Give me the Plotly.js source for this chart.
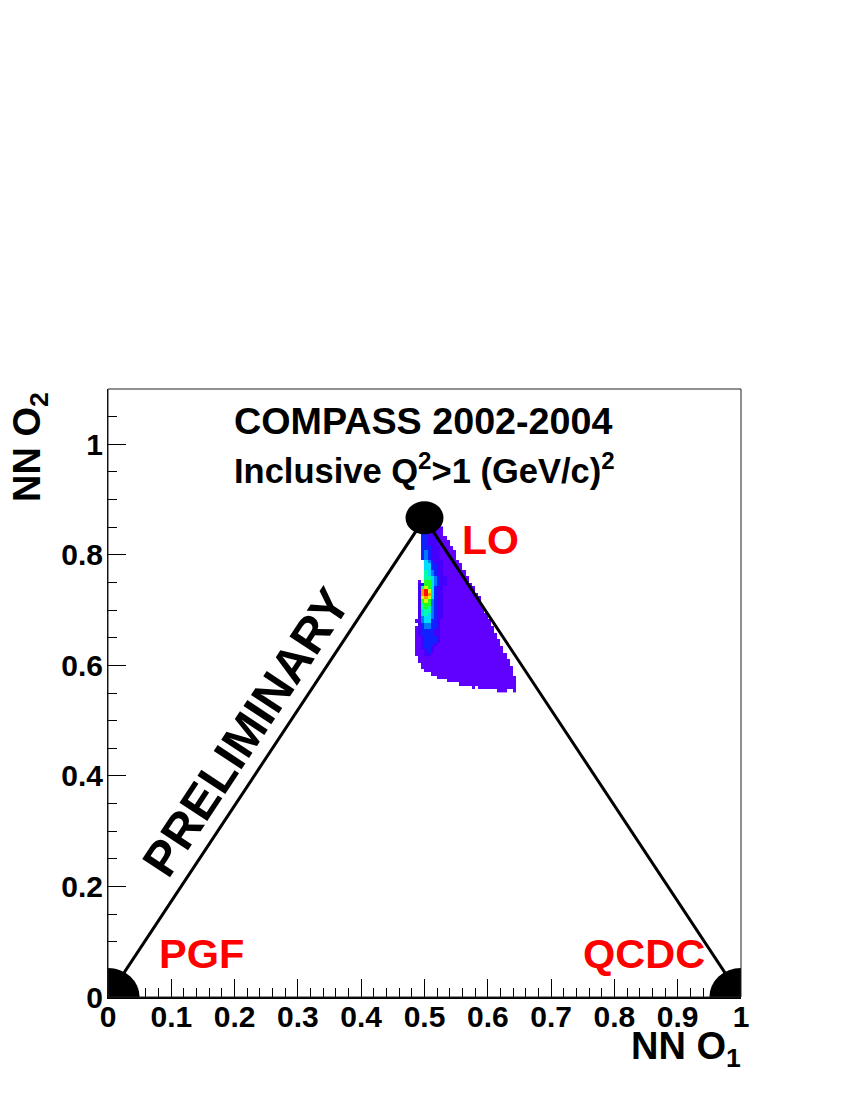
<!DOCTYPE html>
<html>
<head>
<meta charset="utf-8">
<script src="https://cdn.plot.ly/plotly-3.0.1.min.js"></script>
<style>html,body{margin:0;padding:0;background:#fff}</style>
</head>
<body>
<div id="chart" style="width:850px;height:1100px"></div>
<script>
// triangle corners, NN O1 / NN O2
const cornerX = [0, 0.5, 1]
const cornerY = [0, 0.866, 0]
const blobX = [0, 0.5, 1]
const blobY = [0, 0.867, 0]
const blobRx = [0.05, 0.03, 0.05]
const blobRy = [0.0525, 0.03, 0.0525]

const xTickVals = [0, 0.1, 0.2, 0.3, 0.4, 0.5, 0.6, 0.7, 0.8, 0.9, 1]
const xTickText = ['0', '0.1', '0.2', '0.3', '0.4', '0.5', '0.6', '0.7', '0.8', '0.9', '1']
const yTickVals = [0, 0.2, 0.4, 0.6, 0.8, 1]
const yTickText = ['0', '0.2', '0.4', '0.6', '0.8', '1']

// density, top row first, one char per bin: . = empty, 1-9,A = colour level
const densityRows = [
    '..3322211',
    '..3322211',
    '..3322211',
    '..33222111',
    '..332221111',
    '..332221111',
    '..3332221111',
    '..34322211111',
    '..34322211111',
    '..34322211111',
    '...54322211111',
    '...553322111111',
    '...553322111111',
    '...6543221111111',
    '...6543221111111',
    '...66543221111111',
    '.1.77543221111111',
    '.23775432211111111',
    '.268753221111111111',
    '.29A85322' + '1111111111',
    '.29A95322' + '11111111111',
    '.28985322' + '111111111111',
    '.27874322' + '111111111111',
    '.26774322' + '111111111111',
    '.26764322' + '1111111111111',
    '.25664322' + '1111111111111',
    '.25654322' + '11111111111111',
    '.24554322' + '11111111111111',
    '12455332' + '1111111111111111',
    '.2344332' + '1111111111111111',
    '12344332' + '11111111111111111',
    '12333322' + '11111111111111111',
    '12333322' + '111111111111111111',
    '11233332' + '111111111111111111',
    '11233332' + '1111111111111111111',
    '11233321' + '1111111111111111111',
    '11233211' + '11111111111111111111',
    '11123211' + '11111111111111111111',
    '11122111' + '111111111111111111111',
    '.1111111' + '111111111111111111111',
    '.1111111' + '1111111111111111111111',
    '..111111' + '1111111111111111111111',
    '..111111' + '11111111111111111111111',
    '...11111' + '11111111111111111111111',
    '.....111' + '11111111111111111111111',
    '.......1' + '111111111111111111111111',
    '..........' + '1111111111111111111111',
    '..............' + '111111111111111111',
    '..................' + '1.111111111111',
    '..........................' + '111..1'
]
const levelColors = ['#6000ff', '#4400ff', '#1020ff', '#0078ff', '#00dcff', '#00ffa8', '#20ff20', '#d8ff00', '#ff9800', '#ff1000']

const labelFamily = '"Liberation Sans", Arial, Helvetica, sans-serif'
const levelOf = { '1': 1, '2': 2, '3': 3, '4': 4, '5': 5, '6': 6, '7': 7, '8': 8, '9': 9, 'A': 10 }
const zRows = densityRows.slice().reverse().map(row => {
    const cells = row.split('').map(c => c === '.' ? null : levelOf[c])
    while (cells.length < 32) cells.push(null)
    return cells
})

const data = [
    {
        type: 'heatmap',
        z: zRows,
        x0: 0.4875,
        dx: 0.005,
        y0: 0.5544,
        dy: 0.006,
        zmin: 1,
        zmax: 10,
        colorscale: levelColors.map((c, i) => [i / 9, c]),
        showscale: false,
        hoverinfo: 'skip'
    },
    {
        type: 'scatter',
        mode: 'lines',
        x: cornerX,
        y: cornerY,
        line: { color: '#000', width: 3 },
        hoverinfo: 'skip'
    }
]

const text = (x, y, label, size, color, extra) => Object.assign({
    x: x,
    y: y,
    xref: 'x',
    yref: 'y',
    text: label,
    showarrow: false,
    font: { family: labelFamily, size: size, color: color, weight: 'bold' }
}, extra)

const layout = {
    width: 850,
    height: 1100,
    margin: { l: 108, r: 109, t: 389, b: 103 },
    paper_bgcolor: '#fff',
    plot_bgcolor: '#fff',
    showlegend: false,
    font: { family: labelFamily, color: '#000' },
    xaxis: {
        range: [0, 1],
        tickmode: 'array',
        tickvals: xTickVals,
        ticktext: xTickText,
        ticks: 'inside',
        ticklen: 18,
        tickcolor: '#000',
        tickwidth: 1,
        ticklabelstandoff: -8,
        minor: { dtick: 0.02, ticks: 'inside', ticklen: 9, tickcolor: '#000', tickwidth: 1, showgrid: false },
        showgrid: false,
        zeroline: false,
        showline: true,
        linecolor: '#000',
        linewidth: 2,
        tickfont: { family: labelFamily, size: 30, color: '#000', weight: 'bold' }
    },
    yaxis: {
        range: [0, 1.1],
        tickmode: 'array',
        tickvals: yTickVals,
        ticktext: yTickText,
        ticks: 'inside',
        ticklen: 18,
        tickcolor: '#000',
        tickwidth: 1,
        ticklabelstandoff: -2,
        minor: { dtick: 0.05, ticks: 'inside', ticklen: 9, tickcolor: '#000', tickwidth: 1, showgrid: false },
        showgrid: false,
        zeroline: false,
        showline: true,
        linecolor: '#000',
        linewidth: 1,
        tickfont: { family: labelFamily, size: 30, color: '#000', weight: 'bold' }
    },
    shapes: blobX.map((x, i) => ({
        type: 'circle',
        xref: 'x',
        yref: 'y',
        x0: x - blobRx[i],
        x1: x + blobRx[i],
        y0: blobY[i] - blobRy[i],
        y1: blobY[i] + blobRy[i],
        fillcolor: '#000',
        line: { width: 0 }
    })).concat([{
        type: 'rect',
        xref: 'paper',
        yref: 'paper',
        x0: 0,
        x1: 1,
        y0: 0,
        y1: 1,
        line: { color: '#222', width: 1 }
    }]),
    annotations: [
        text(0.498, 1.042, 'COMPASS 2002-2004', 37.7, '#000'),
        text(0.5, 0.956, 'Inclusive Q<sup>2</sup>>1 (GeV/c)<sup>2</sup>', 34.5, '#000'),
        text(0.604, 0.8275, 'LO', 41, '#ff0000'),
        text(0.147, 0.0779, 'PGF', 41.5, '#ff0000'),
        text(0.846, 0.0779, 'QCDC', 41.5, '#ff0000'),
        text(0.218, 0.479, 'PRELIMINARY', 48.5, '#000', { textangle: -56.5 }),
        text(1.003, -0.129, 'NN O<sub>1</sub>', 38, '#000', { xref: 'paper', yref: 'paper', xanchor: 'right' }),
        text(-0.1654, 0.999, 'NN O<sub>2</sub>', 38, '#000', { xref: 'paper', yref: 'paper', textangle: -90 })
    ]
}

Plotly.newPlot('chart', data, layout, { staticPlot: true, displayModeBar: false })
</script>
</body>
</html>
